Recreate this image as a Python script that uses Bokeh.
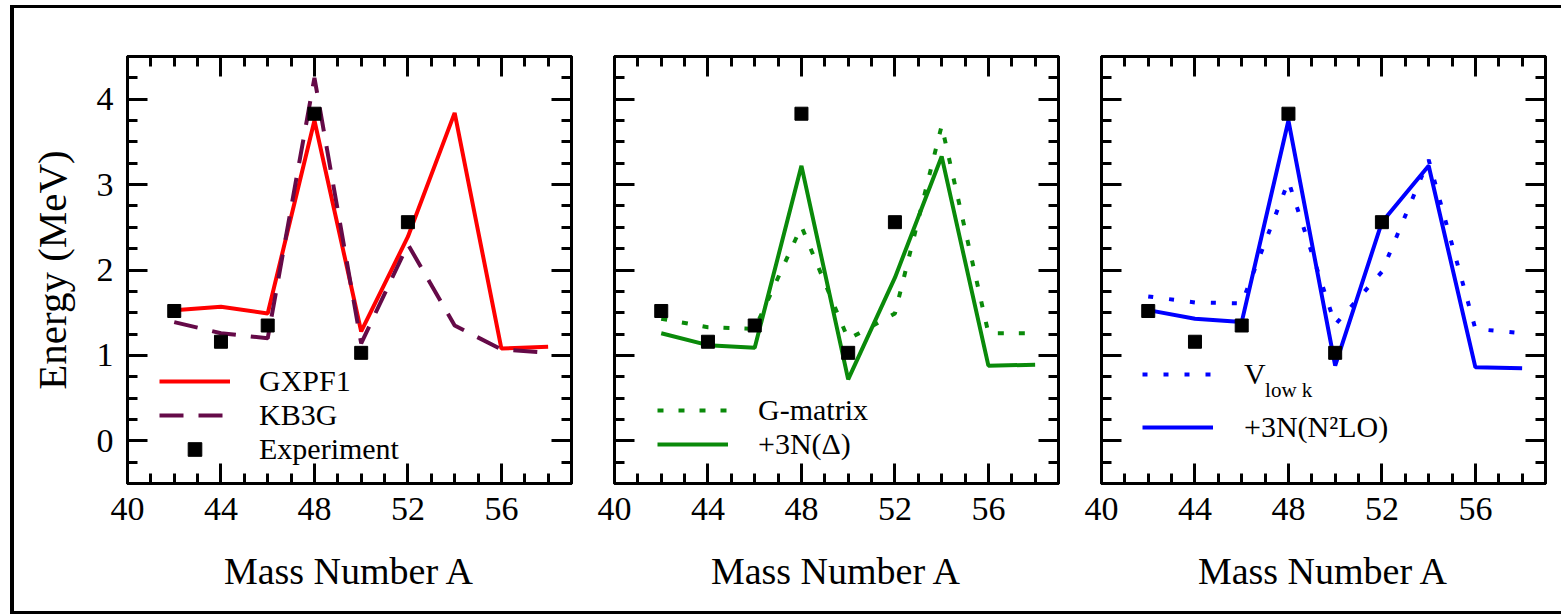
from bokeh.plotting import figure
from bokeh.models import (LinearAxis, FixedTicker, Range1d, Legend, LegendItem,
                          Label, CustomJSTickFormatter)
from bokeh.layouts import row
from bokeh.embed import file_html
from bokeh.resources import INLINE

# ---- data ----
mass = [42, 44, 46, 48, 50, 52, 54, 56, 58]
exp_mass = [42, 44, 46, 48, 50, 52]
exp_energy = [1.52, 1.16, 1.35, 3.83, 1.03, 2.56]

gxpf1 = [1.53, 1.57, 1.49, 3.75, 1.28, 2.39, 3.84, 1.08, 1.10]
kb3g = [1.39, 1.26, 1.20, 4.25, 1.14, 2.30, 1.35, 1.07, 1.03]

gmatrix = [1.43, 1.33, 1.31, 2.51, 1.19, 1.49, 3.69, 1.26, 1.26]
gmatrix_3n = [1.26, 1.12, 1.09, 3.22, 0.72, 1.91, 3.33, 0.88, 0.89]

vlowk = [1.69, 1.62, 1.61, 3.04, 1.36, 1.98, 3.29, 1.31, 1.26]
vlowk_3n = [1.53, 1.43, 1.39, 3.75, 0.88, 2.56, 3.22, 0.86, 0.85]

x_ticks = [40, 44, 48, 52, 56]
x_minor = [41, 42, 43, 45, 46, 47, 49, 50, 51, 53, 54, 55, 57, 58, 59]
y_ticks = [0, 1, 2, 3, 4]
y_minor = [-0.5, -0.25, 0.25, 0.5, 0.75, 1.25, 1.5, 1.75, 2.25, 2.5, 2.75,
           3.25, 3.5, 3.75, 4.25, 4.5]

SERIF = "Liberation Serif"
RED = "#ff0000"
PURPLE = "#650a48"
GREEN = "#0a8a0a"
BLUE = "#0000ff"


def style_axis(ax, ticks, minor, show_labels):
    ax.ticker = FixedTicker(ticks=ticks, minor_ticks=minor)
    ax.major_tick_in = 20
    ax.major_tick_out = 0
    ax.minor_tick_in = 10
    ax.minor_tick_out = 0
    ax.axis_line_width = 3
    ax.major_tick_line_width = 3
    ax.minor_tick_line_width = 3
    ax.axis_line_color = "black"
    ax.major_tick_line_color = "black"
    ax.minor_tick_line_color = "black"
    if show_labels:
        ax.major_label_text_font = SERIF
        ax.major_label_text_font_size = "34px"
        ax.major_label_text_color = "black"
        ax.major_label_standoff = 14
    else:
        ax.formatter = CustomJSTickFormatter(code="return ''")
        ax.major_label_text_font_size = "8px"
        ax.major_label_standoff = 0
    ax.axis_label_text_font = SERIF
    ax.axis_label_text_font_style = "normal"
    ax.axis_label_text_color = "black"


def make_panel(first, min_left, min_right):
    p = figure(frame_width=444, frame_height=427,
               x_range=Range1d(40, 59), y_range=Range1d(-0.5, 4.5),
               output_backend="svg", toolbar_location=None,
               x_axis_type=None, y_axis_type=None,
               min_border_left=min_left, min_border_right=min_right,
               min_border_top=48, min_border_bottom=128)
    p.xgrid.visible = False
    p.ygrid.visible = False
    p.outline_line_color = "black"
    p.outline_line_width = 3
    p.background_fill_color = "white"
    p.border_fill_color = "white"

    bottom = LinearAxis()
    style_axis(bottom, x_ticks, x_minor, True)
    bottom.axis_label = "Mass Number A"
    bottom.axis_label_text_font_size = "38px"
    bottom.axis_label_standoff = 27
    p.add_layout(bottom, "below")

    left = LinearAxis()
    style_axis(left, y_ticks, y_minor, first)
    if first:
        left.axis_label = "Energy (MeV)"
        left.axis_label_text_font_size = "41px"
        left.axis_label_standoff = 19
    p.add_layout(left, "left")

    top = LinearAxis()
    style_axis(top, x_ticks, x_minor, False)
    p.add_layout(top, "above")

    right = LinearAxis()
    style_axis(right, y_ticks, y_minor, False)
    p.add_layout(right, "right")
    return p


def make_legend(items, loc, standoff, label_h, glyph_h=30):
    lg = Legend(items=items, location=loc)
    lg.glyph_width = 71
    lg.glyph_height = glyph_h
    lg.label_height = label_h
    lg.label_standoff = standoff
    lg.spacing = 0
    lg.padding = 0
    lg.margin = 0
    lg.border_line_color = None
    lg.background_fill_alpha = 0
    lg.label_text_font = SERIF
    lg.label_text_font_size = "30px"
    lg.label_text_color = "black"
    return lg


# ---- panel 1 ----
p1 = make_panel(True, 113, 21)
r_g = p1.line(mass, gxpf1, line_color=RED, line_width=4)
r_k = p1.line(mass, kb3g, line_color=PURPLE, line_width=4, line_dash="24 15")
r_e1 = p1.scatter(exp_mass, exp_energy, marker="square", size=13,
                  fill_color="black", line_color="black")
p1.add_layout(make_legend([LegendItem(label="GXPF1", renderers=[r_g]),
                           LegendItem(label="KB3G", renderers=[r_k]),
                           LegendItem(label="Experiment", renderers=[r_e1])],
                          (32, 17), 29, 34, glyph_h=34))

# ---- panel 2 ----
p2 = make_panel(False, 22, 22)
r_gm = p2.line(mass, gmatrix, line_color=GREEN, line_width=4, line_dash="6 15")
r_g3 = p2.line(mass, gmatrix_3n, line_color=GREEN, line_width=4)
p2.scatter(exp_mass, exp_energy, marker="square", size=13,
           fill_color="black", line_color="black")
p2.add_layout(make_legend([LegendItem(label="G-matrix", renderers=[r_gm]),
                           LegendItem(label="+3N(Δ)", renderers=[r_g3])],
                          (43, 22), 30, 34))

# ---- panel 3 ----
p3 = make_panel(False, 21, 16)
r_v = p3.line(mass, vlowk, line_color=BLUE, line_width=4, line_dash="5 16")
r_v3 = p3.line(mass, vlowk_3n, line_color=BLUE, line_width=4)
p3.scatter(exp_mass, exp_energy, marker="square", size=13,
           fill_color="black", line_color="black")
p3.add_layout(make_legend([LegendItem(label="V", renderers=[r_v]),
                           LegendItem(label="+3N(N²LO)", renderers=[r_v3])],
                          (41, 30), 31, 53))
p3.add_layout(Label(x=47.0, y=0.59, text="low k", text_font=SERIF,
                    text_font_size="21px", text_color="black",
                    text_baseline="alphabetic"))

layout = row(p1, p2, p3, styles={"margin-left": "10px",
                                 "margin-top": "5px",
                                 "border-left": "4px solid black",
                                 "border-top": "3px solid black",
                                 "border-bottom": "3px solid black"})

open("out.html", "w").write(file_html(layout, INLINE))
